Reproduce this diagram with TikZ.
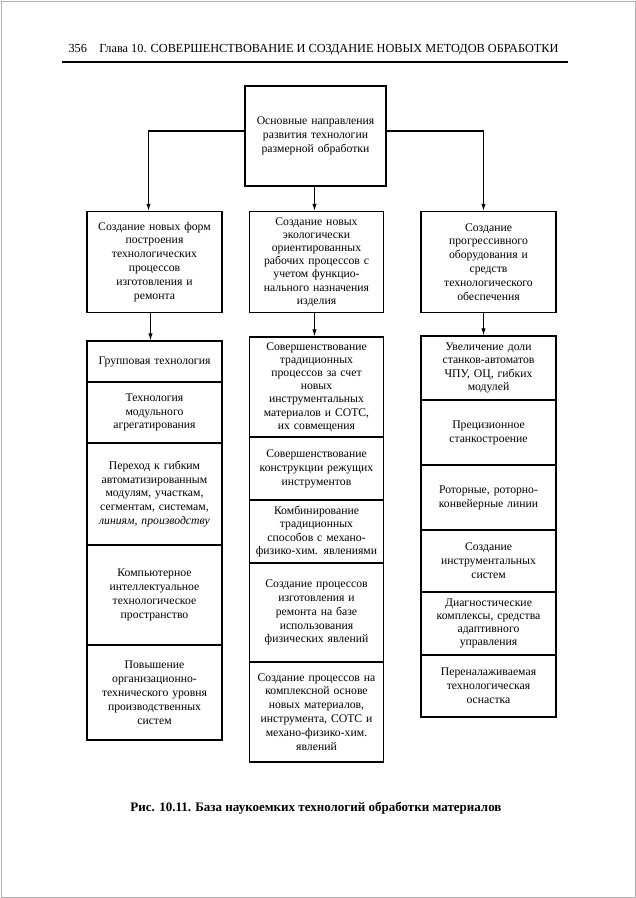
\documentclass[tikz,border=0pt]{standalone}
\usepackage{fontspec}
\setmainfont{Liberation Serif}
\usetikzlibrary{arrows.meta,positioning}
\begin{document}
\begin{tikzpicture}[x=1pt,y=-1pt,
  box/.style={draw=black,line width=1.4pt,align=center,inner xsep=2pt,inner ysep=0.5pt,
    font=\fontsize{11.7}{13.9}\selectfont},
  tight/.style={font=\fontsize{11.7}{13.2}\selectfont},
  arr/.style={line width=1.1pt,-{Latex[length=7pt,width=4.5pt]}},
  hdr/.style={font=\fontsize{12.3}{14}\selectfont,anchor=base west},
  captxt/.style={font=\bfseries\fontsize{13}{15}\selectfont}]
\useasboundingbox (0,0) rectangle (636,898);
\draw[gray!60,line width=0.8pt] (1,1) rectangle (635,897);
% header
\node[hdr] (hd) at (65,52) {356\quad Глава 10. СОВЕРШЕНСТВОВАНИЕ И СОЗДАНИЕ НОВЫХ МЕТОДОВ ОБРАБОТКИ};
\coordinate (r1) at (62,62);
\coordinate (r2) at (568,62);
\draw[line width=1.2pt] (r1) -- (r2);
% top
\node[box,minimum width=141,minimum height=100,text width=134] (top) at (315.5,136) {Основные направления\\развития технологии\\размерной обработки};
% level 2
\node[box,minimum width=135,minimum height=101,text width=130] (L) at (154.5,262) {Создание новых форм\\построения\\технологических\\процессов\\изготовления и\\ремонта};
\node[box,tight,minimum width=133,minimum height=101,text width=130] (M) at (316.5,262) {Создание новых\\экологически\\ориентированных\\рабочих процессов с\\учетом функцио-\\нального назначения\\изделия};
\node[box,minimum width=135,minimum height=101,text width=130] (R) at (488.5,262) {Создание\\прогрессивного\\оборудования и\\средств\\технологического\\обеспечения};
\draw[arr] ([yshift=5pt]top.west) -| ([xshift=-6pt]L.north);
\draw[arr] ([yshift=5pt]top.east) -| ([xshift=-5pt]R.north);
\draw[arr] ([xshift=-1pt]top.south) -- ([xshift=-1pt]top.south |- M.north);
% left stack
\node[box,minimum width=135,minimum height=41,text width=130] (L1) at (154.5,361.5) {Групповая технология};
\node[box,minimum width=135,minimum height=61,text width=130] (L2) at (154.5,412.5) {Технология\\модульного\\агрегатирования};
\node[box,minimum width=135,minimum height=102,text width=130] (L3) at (154.5,494) {Переход к гибким\\автоматизированным\\модулям, участкам,\\сегментам, системам,\\\textit{линиям, производству}};
\node[box,minimum width=135,minimum height=100,text width=130] (L4) at (154.5,595) {Компьютерное\\интеллектуальное\\технологическое\\пространство};
\node[box,minimum width=135,minimum height=95,text width=130] (L5) at (154.5,692.5) {Повышение\\организационно-\\технического уровня\\производственных\\систем};
\draw[arr] ([xshift=-4pt]L.south) -- ([xshift=-4pt]L1.north);
% middle stack
\node[box,tight,minimum width=133,minimum height=100,text width=130] (M1) at (316.5,387) {Совершенствование\\традиционных\\процессов за счет\\новых\\инструментальных\\материалов и СОТС,\\их совмещения};
\node[box,minimum width=133,minimum height=63,text width=130] (M2) at (316.5,468.5) {Совершенствование\\конструкции режущих\\инструментов};
\node[box,tight,minimum width=133,minimum height=63,text width=130] (M3) at (316.5,531.5) {Комбинирование\\традиционных\\способов с механо-\\физико-хим. явлениями};
\node[box,minimum width=133,minimum height=99,text width=130] (M4) at (316.5,612.5) {Создание процессов\\изготовления и\\ремонта на базе\\использования\\физических явлений};
\node[box,minimum width=133,minimum height=100,text width=130] (M5) at (316.5,712) {Создание процессов на\\комплексной основе\\новых материалов,\\инструмента, СОТС и\\механо-физико-хим.\\явлений};
\draw[arr] ([xshift=-2pt]M.south) -- ([xshift=-2pt]M1.north);
% right stack
\node[box,tight,minimum width=135,minimum height=64,text width=130] (R1) at (488.5,368) {Увеличение доли\\станков-автоматов\\ЧПУ, ОЦ, гибких\\модулей};
\node[box,minimum width=135,minimum height=65,text width=130] (R2) at (488.5,432.5) {Прецизионное\\станкостроение};
\node[box,minimum width=135,minimum height=65,text width=130] (R3) at (488.5,497.5) {Роторные, роторно-\\конвейерные линии};
\node[box,minimum width=135,minimum height=62,text width=130] (R4) at (488.5,561) {Создание\\инструментальных\\систем};
\node[box,tight,minimum width=135,minimum height=63,text width=130] (R5) at (488.5,623.5) {Диагностические\\комплексы, средства\\адаптивного\\управления};
\node[box,minimum width=135,minimum height=62,text width=130] (R6) at (488.5,686) {Переналаживаемая\\технологическая\\оснастка};
\draw[arr] ([xshift=-5pt]R.south) -- ([xshift=-5pt]R1.north);
% caption
\node[captxt] (cp) at (316,808) {Рис. 10.11. База наукоемких технологий обработки материалов};
\end{tikzpicture}
\end{document}
